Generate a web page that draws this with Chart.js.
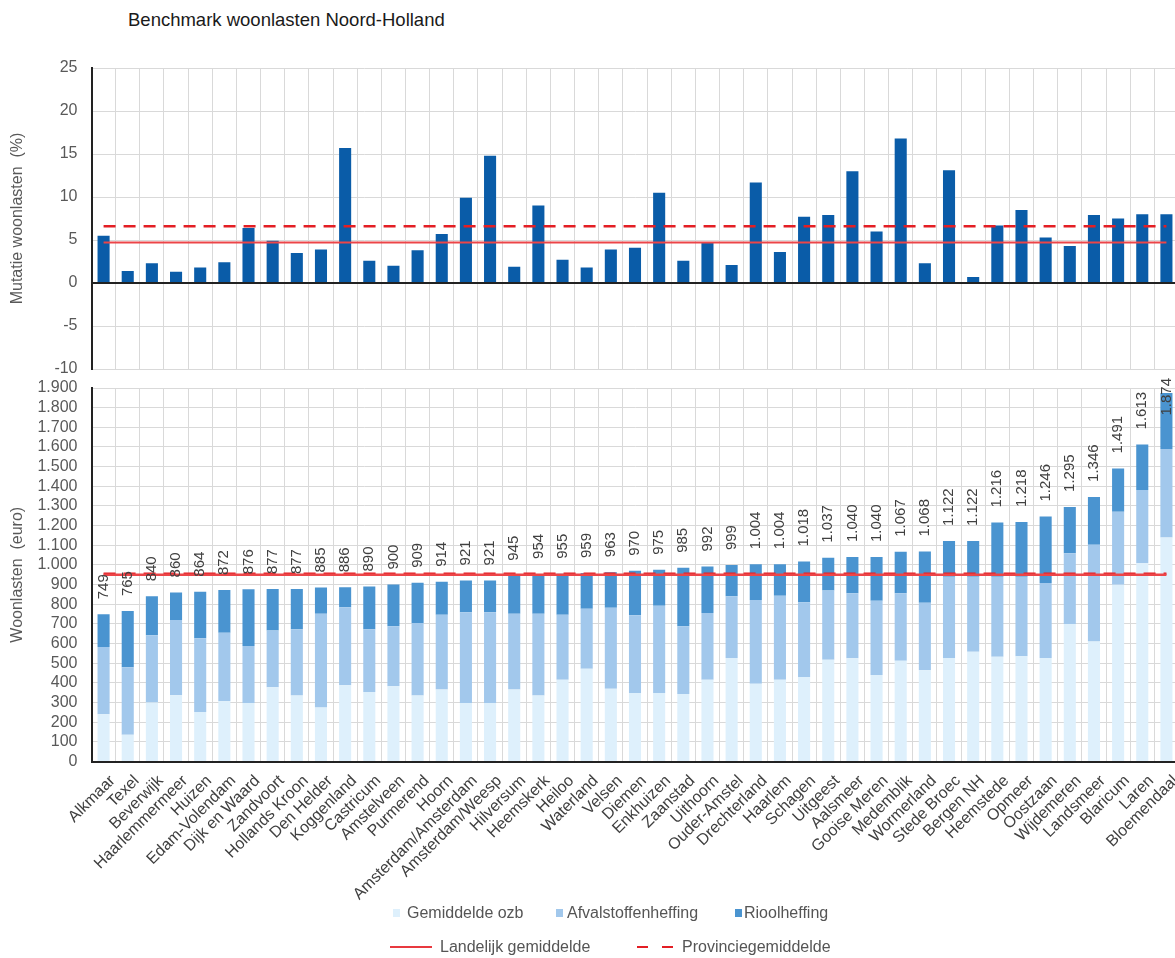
<!DOCTYPE html>
<html lang="nl">
<head>
<meta charset="utf-8">
<title>Benchmark woonlasten Noord-Holland</title>
<script src="https://cdn.jsdelivr.net/npm/chart.js@4.4.1/dist/chart.umd.min.js"></script>
<style>
    html, body { margin: 0; padding: 0; background: #fff; overflow: hidden; }
    body { width: 1175px; height: 958px; position: relative; font-family: "Liberation Sans", Arial, sans-serif; }
    #title { position: absolute; left: 128px; top: 11px; font-size: 18.5px; line-height: 18.5px; color: #1a1a1a; }
    canvas { position: absolute; left: 0; }
    #mutatieChart { top: 50px; }
    #lastenChart { top: 375px; }
    .lg { position: absolute; font-size: 16px; line-height: 16px; color: #555; white-space: nowrap; }
    .sq { position: absolute; width: 7px; height: 8px; }
    .ln { position: absolute; height: 0; border-top: 2px solid #e8393f; }
</style>
</head>
<body>
<div id="title">Benchmark woonlasten Noord-Holland</div>
<canvas id="mutatieChart" width="1180" height="330"></canvas>
<canvas id="lastenChart" width="1180" height="583"></canvas>

<!-- legend -->
<div class="sq" style="left:393px; top:909px; background:#def0fc;"></div>
<div class="lg" style="left:407px; top:905px;">Gemiddelde ozb</div>
<div class="sq" style="left:556px; top:909px; background:#a2c8ec;"></div>
<div class="lg" style="left:567px; top:905px;">Afvalstoffenheffing</div>
<div class="sq" style="left:735px; top:909px; background:#4a94d0;"></div>
<div class="lg" style="left:744px; top:905px;">Rioolheffing</div>
<div class="ln" style="left:390px; top:946px; width:42px;"></div>
<div class="lg" style="left:440px; top:939px;">Landelijk gemiddelde</div>
<div class="ln" style="left:637px; top:946px; width:11px; border-color:#e31e24;"></div>
<div class="ln" style="left:662px; top:946px; width:11px; border-color:#e31e24;"></div>
<div class="lg" style="left:682px; top:939px;">Provinciegemiddelde</div>

<script>
// Gemeenten (gesorteerd op woonlasten)
const gemeenten = [
    'Alkmaar', 'Texel', 'Beverwijk', 'Haarlemmermeer', 'Huizen', 'Edam-Volendam', 'Dijk en Waard',
    'Zandvoort', 'Hollands Kroon', 'Den Helder', 'Koggenland', 'Castricum', 'Amstelveen', 'Purmerend',
    'Hoorn', 'Amsterdam/Amsterdam', 'Amsterdam/Weesp', 'Hilversum', 'Heemskerk', 'Heiloo', 'Waterland',
    'Velsen', 'Diemen', 'Enkhuizen', 'Zaanstad', 'Uithoorn', 'Ouder-Amstel', 'Drechterland', 'Haarlem',
    'Schagen', 'Uitgeest', 'Aalsmeer', 'Gooise Meren', 'Medemblik', 'Wormerland', 'Stede Broec',
    'Bergen NH', 'Heemstede', 'Opmeer', 'Oostzaan', 'Wijdemeren', 'Landsmeer', 'Blaricum', 'Laren',
    'Bloemendaal'
];

// Mutatie woonlasten (%)
const mutatie = [
    5.5, 1.4, 2.3, 1.3, 1.8, 2.4, 6.4, 4.9, 3.5, 3.9, 15.7, 2.6, 2.0, 3.8, 5.7,
    9.9, 14.8, 1.9, 9.0, 2.7, 1.8, 3.9, 4.1, 10.5, 2.6, 4.7, 2.1, 11.7, 3.6, 7.7,
    7.9, 13.0, 6.0, 16.8, 2.3, 13.1, 0.7, 6.7, 8.5, 5.3, 4.3, 7.9, 7.5, 8.0, 8.0
];
const mutatieLandelijk = 4.7;
const mutatieProvincie = 6.6;

// Woonlasten (euro) per onderdeel
const ozb = [
    240, 136, 300, 337, 252, 306, 298, 378, 336, 275, 388, 354, 383, 336, 366,
    298, 298, 366, 336, 416, 472, 370, 348, 348, 343, 416, 526, 395, 416, 430,
    518, 525, 440, 513, 464, 526, 558, 533, 536, 526, 699, 611, 899, 1009, 1140
];
const afval = [
    343, 344, 342, 383, 375, 349, 289, 288, 337, 476, 397, 319, 305, 369, 380,
    461, 461, 386, 416, 331, 305, 412, 396, 444, 345, 339, 314, 427, 427, 380,
    352, 331, 378, 343, 344, 414, 382, 407, 404, 382, 360, 492, 372, 372, 450
];
const riool = [
    166, 285, 198, 140, 237, 217, 289, 211, 204, 134, 101, 217, 212, 204, 168,
    162, 162, 193, 202, 208, 182, 181, 226, 183, 297, 237, 159, 182, 161, 208,
    167, 184, 222, 211, 260, 182, 182, 276, 278, 338, 236, 243, 220, 232, 284
];
const woonlastenLandelijk = 950;
const woonlastenProvincie = 955;

const FONT = '"Liberation Sans", Arial, sans-serif';
const GRID = '#d9d9d9';
const AXIS_W = 91.5;

// 1234 -> "1.234"
function formatNL(n) {
    return String(n).replace(/\B(?=(\d{3})+(?!\d))/g, '.');
}

// line from first to last category
function refLine(value) {
    return [
        { x: gemeenten[0], y: value },
        { x: gemeenten[gemeenten.length - 1], y: value }
    ];
}

// fixed axis width, no extra padding for the tick labels
function fixYAxis(scale) {
    scale.width = AXIS_W;
    scale.paddingTop = 0;
    scale.paddingBottom = 0;
}

// Total labels above the stacked bars, rotated
const totalLabels = {
    id: 'totalLabels',
    afterDatasetsDraw(chart) {
        const ctx = chart.ctx;
        const meta = chart.getDatasetMeta(2);
        ctx.save();
        ctx.font = '15px ' + FONT;
        ctx.fillStyle = '#404040';
        ctx.textAlign = 'left';
        ctx.textBaseline = 'middle';
        meta.data.forEach((bar, i) => {
            const text = formatNL(ozb[i] + afval[i] + riool[i]);
            const w = ctx.measureText(text).width;
            const y = Math.max(bar.y - 15, w + 3);
            ctx.save();
            ctx.translate(bar.x, y);
            ctx.rotate(-Math.PI / 2);
            ctx.fillText(text, 0, 0);
            ctx.restore();
        });
        ctx.restore();
    }
};

Chart.defaults.font.family = FONT;
Chart.defaults.animation = false;

// Top chart: mutatie
new Chart(document.getElementById('mutatieChart'), {
    type: 'bar',
    data: {
        labels: gemeenten,
        datasets: [
            {
                label: 'Mutatie woonlasten',
                data: mutatie,
                backgroundColor: '#0a5ca8',
                barPercentage: 0.5,
                categoryPercentage: 1,
                order: 1
            },
            {
                type: 'line',
                label: 'Landelijk gemiddelde',
                data: refLine(mutatieLandelijk),
                borderColor: '#ec4548',
                borderWidth: 2,
                pointRadius: 0,
                order: 0
            },
            {
                type: 'line',
                label: 'Provinciegemiddelde',
                data: refLine(mutatieProvincie),
                borderColor: '#e31e24',
                borderWidth: 2.5,
                borderDash: [12, 8],
                pointRadius: 0,
                order: 0
            }
        ]
    },
    options: {
        responsive: false,
        devicePixelRatio: 1,
        layout: { padding: { top: 18, right: 1.5, bottom: 11, left: 0 } },
        plugins: { legend: { display: false }, tooltip: { enabled: false } },
        scales: {
            x: {
                grid: { color: GRID, offset: true, drawTicks: false },
                border: { display: false },
                ticks: { display: false },
                afterFit(scale) { scale.height = 0; }
            },
            y: {
                min: -10,
                max: 25,
                ticks: { stepSize: 5, color: '#595959', font: { size: 16 }, padding: 14 },
                grid: {
                    drawTicks: false,
                    color: ctx => ctx.tick && ctx.tick.value === 0 ? '#222' : GRID,
                    lineWidth: ctx => ctx.tick && ctx.tick.value === 0 ? 2 : 1
                },
                border: { color: '#222', width: 2 },
                title: {
                    display: true,
                    text: 'Mutatie woonlasten  (%)',
                    color: '#595959',
                    font: { size: 16 },
                    padding: { top: 8, bottom: 0 }
                },
                afterFit: fixYAxis
            }
        }
    }
});

// Bottom chart: woonlasten
new Chart(document.getElementById('lastenChart'), {
    type: 'bar',
    data: {
        labels: gemeenten,
        datasets: [
            { label: 'Gemiddelde ozb', data: ozb, backgroundColor: '#def0fc', order: 1 },
            { label: 'Afvalstoffenheffing', data: afval, backgroundColor: '#a2c8ec', order: 1 },
            { label: 'Rioolheffing', data: riool, backgroundColor: '#4a94d0', order: 1 },
            {
                type: 'line',
                label: 'Landelijk gemiddelde',
                data: refLine(woonlastenLandelijk),
                borderColor: '#ec4548',
                borderWidth: 2.5,
                pointRadius: 0,
                stack: 'landelijk',
                order: 0
            },
            {
                type: 'line',
                label: 'Provinciegemiddelde',
                data: refLine(woonlastenProvincie),
                borderColor: '#e31e24',
                borderWidth: 2.5,
                borderDash: [12, 8],
                pointRadius: 0,
                stack: 'provincie',
                order: 0
            }
        ]
    },
    options: {
        responsive: false,
        devicePixelRatio: 1,
        layout: { padding: { top: 13, right: 1.5, bottom: 0, left: 0 } },
        datasets: { bar: { barPercentage: 0.5, categoryPercentage: 1 } },
        plugins: { legend: { display: false }, tooltip: { enabled: false } },
        scales: {
            x: {
                stacked: true,
                grid: { color: GRID, offset: true, drawTicks: false },
                border: { color: '#222', width: 2 },
                ticks: {
                    autoSkip: false,
                    maxRotation: 45,
                    minRotation: 45,
                    color: '#404040',
                    font: { size: 16 },
                    padding: 10,
                    labelOffset: 9
                },
                afterFit(scale) {
                    scale.height = 196.5;
                    scale.paddingLeft = 0;
                    scale.paddingRight = 0;
                }
            },
            y: {
                stacked: true,
                min: 0,
                max: 1900,
                ticks: {
                    stepSize: 100,
                    autoSkip: false,
                    color: '#595959',
                    font: { size: 16 },
                    padding: 14,
                    callback: v => formatNL(v)
                },
                grid: { color: GRID, drawTicks: false },
                border: { color: '#222', width: 2 },
                title: {
                    display: true,
                    text: 'Woonlasten  (euro)',
                    color: '#595959',
                    font: { size: 16 },
                    padding: { top: 8, bottom: 0 }
                },
                afterFit: fixYAxis
            }
        }
    },
    plugins: [totalLabels]
});
</script>
</body>
</html>
